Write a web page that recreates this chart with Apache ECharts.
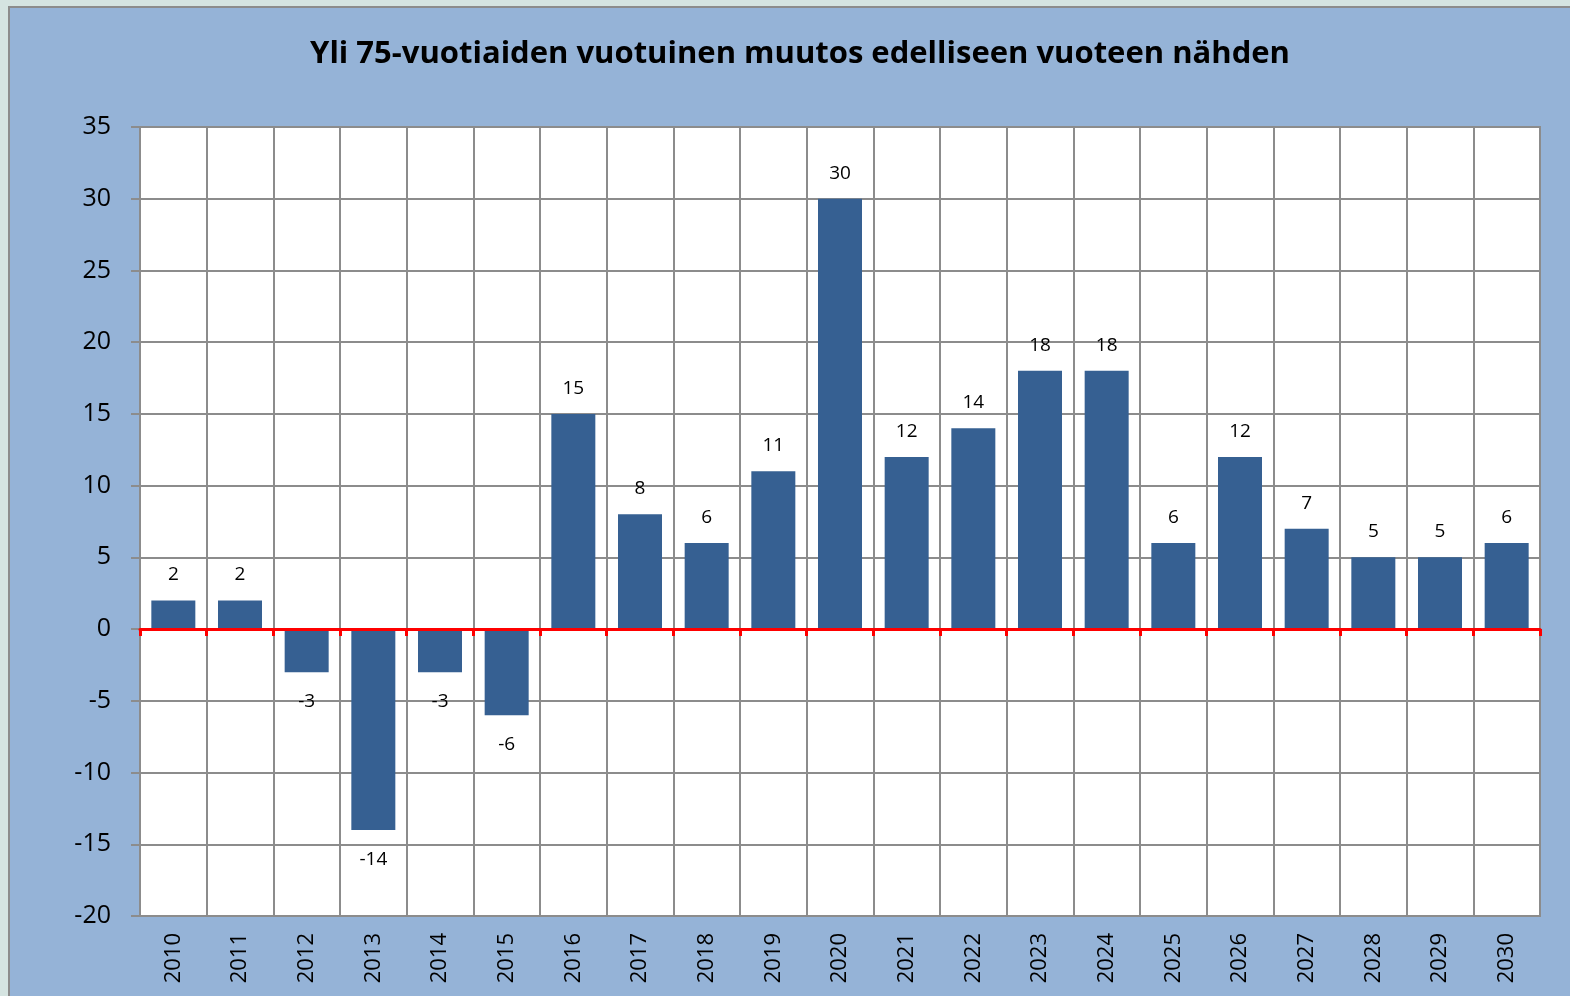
<!DOCTYPE html>
<html>
<head>
<meta charset="utf-8">
<title>Yli 75-vuotiaiden vuotuinen muutos</title>
<script src="https://cdn.jsdelivr.net/npm/echarts@6/dist/echarts.min.js"></script>
<style>
    html, body {
        margin: 0;
        padding: 0;
        background: #d5e4e1;
        overflow: hidden;
    }
    #chart {
        position: absolute;
        left: 8px;
        top: 6px;
        width: 1562px;
        height: 990px;
        border-left: 2px solid #8c8c8c;
        border-top: 2px solid #8c8c8c;
        background: #95b3d7;
    }
</style>
</head>
<body>
<div id="chart"></div>
<script>
// Chart data
const titleText = 'Yli 75-vuotiaiden vuotuinen muutos edelliseen vuoteen nähden';
const years = ['2010', '2011', '2012', '2013', '2014', '2015', '2016', '2017', '2018', '2019',
    '2020', '2021', '2022', '2023', '2024', '2025', '2026', '2027', '2028', '2029', '2030'];
const changes = [2, 2, -3, -14, -3, -6, 15, 8, 6, 11, 30, 12, 14, 18, 18, 6, 12, 7, 5, 5, 6];

const FONT = '"Open Sans", "Liberation Sans", sans-serif';
const GRID_GREY = '#8c8c8c';

/**
 * Excel style "outside end" labels: above positive bars, below negative ones
 */
function buildBarData(values) {
    return values.map((v) => ({
        value: v,
        label: {
            position: v < 0 ? 'bottom' : 'top',
            distance: v < 0 ? 20 : 16,
        },
    }));
}

const chart = echarts.init(document.getElementById('chart'));

chart.setOption({
    animation: false,
    backgroundColor: '#95b3d7',
    graphic: [{
        type: 'text',
        x: 790,
        y: 46,
        style: {
            text: titleText,
            font: 'bold 31px ' + FONT,
            fill: '#000',
            textAlign: 'center',
            textVerticalAlign: 'middle',
        },
    }],
    grid: {
        left: 130,
        right: 32,
        top: 119,
        bottom: 82,
        show: true,
        backgroundColor: '#ffffff',
        borderColor: GRID_GREY,
        borderWidth: 2,
    },
    xAxis: [
        {
            // labels and vertical grid lines
            type: 'category',
            data: years,
            position: 'bottom',
            axisLine: { show: false, onZero: false },
            axisTick: { show: false },
            axisLabel: {
                rotate: 90,
                margin: 17,
                color: '#000',
                fontFamily: FONT,
                fontSize: 22,
            },
            splitLine: { show: true, lineStyle: { color: GRID_GREY, width: 2 } },
        },
        {
            // red zero line with its small ticks
            type: 'category',
            data: years,
            position: 'bottom',
            z: 10,
            axisLine: { show: true, onZero: true, lineStyle: { color: '#ff0000', width: 3 } },
            axisTick: { show: true, length: 7, lineStyle: { color: '#ff0000', width: 3 } },
            axisLabel: { show: false },
            splitLine: { show: false },
        },
    ],
    yAxis: {
        type: 'value',
        min: -20,
        max: 35,
        interval: 5,
        axisLine: { show: true, lineStyle: { color: GRID_GREY, width: 2 } },
        axisTick: { show: true, length: 9, lineStyle: { color: GRID_GREY, width: 2 } },
        axisLabel: {
            margin: 29,
            color: '#000',
            fontFamily: FONT,
            fontSize: 25,
        },
        splitLine: { show: true, lineStyle: { color: GRID_GREY, width: 2 } },
    },
    series: [{
        type: 'bar',
        xAxisIndex: 0,
        data: buildBarData(changes),
        barWidth: '66%',
        itemStyle: { color: '#366092' },
        label: {
            show: true,
            color: '#000',
            fontFamily: FONT,
            fontSize: 19,
        },
        z: 3,
    }],
});
</script>
</body>
</html>
